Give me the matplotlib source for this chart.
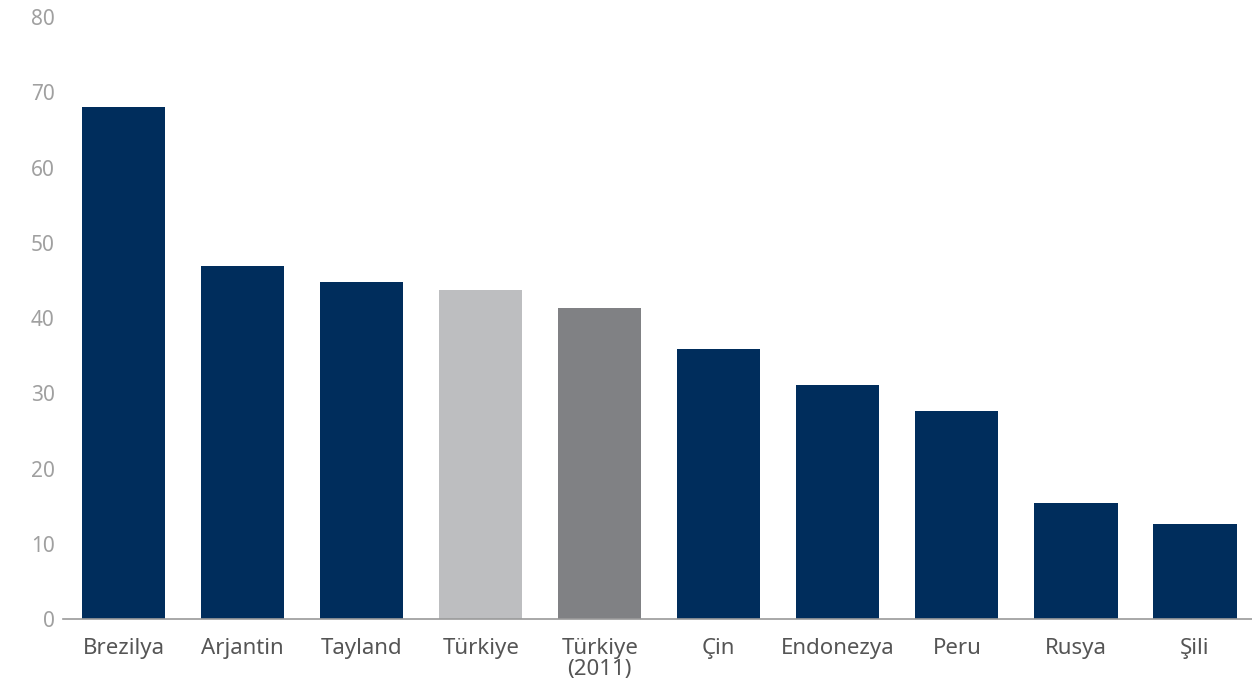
import matplotlib
matplotlib.use("Agg")
import matplotlib.pyplot as plt
import numpy as np

# countries and values
countries = ['Brezilya', 'Arjantin', 'Tayland', 'Türkiye', 'Türkiye\n(2011)',
             'Çin', 'Endonezya', 'Peru', 'Rusya', 'Şili']
values = [68.0, 46.9, 44.8, 43.7, 41.3, 35.9, 31.1, 27.6, 15.4, 12.6]
bar_colors = ['#002d5c', '#002d5c', '#002d5c', '#bdbec0', '#808184',
              '#002d5c', '#002d5c', '#002d5c', '#002d5c', '#002d5c']
yticks = [0, 10, 20, 30, 40, 50, 60, 70, 80]

plt.rcParams['font.family'] = ['Noto Sans', 'DejaVu Sans']

fig = plt.figure(figsize=(12.52, 6.89), dpi=100)
ax = fig.add_axes([0.0503, 0.1016, 0.9497, 0.8737])

x = np.arange(len(countries))
ax.bar(x, values, width=0.7, color=bar_colors, zorder=2)

ax.set_xlim(-0.51, 9.48)
ax.set_ylim(0, 80)
ax.set_yticks(yticks)
ax.set_yticklabels([str(t) for t in yticks], fontsize=15, color='#a0a0a0')
ax.set_xticks(x)
ax.set_xticklabels(countries, fontsize=16, color='#555555', linespacing=0.95)
ax.tick_params(axis='both', length=0)
ax.tick_params(axis='y', pad=6)
ax.tick_params(axis='x', pad=14)

for s in ['top', 'right', 'left']:
    ax.spines[s].set_visible(False)
ax.spines['bottom'].set_color('#9a9a9a')
ax.spines['bottom'].set_linewidth(1.2)
ax.spines['bottom'].set_zorder(3)

fig.savefig('out.png', dpi=100)
